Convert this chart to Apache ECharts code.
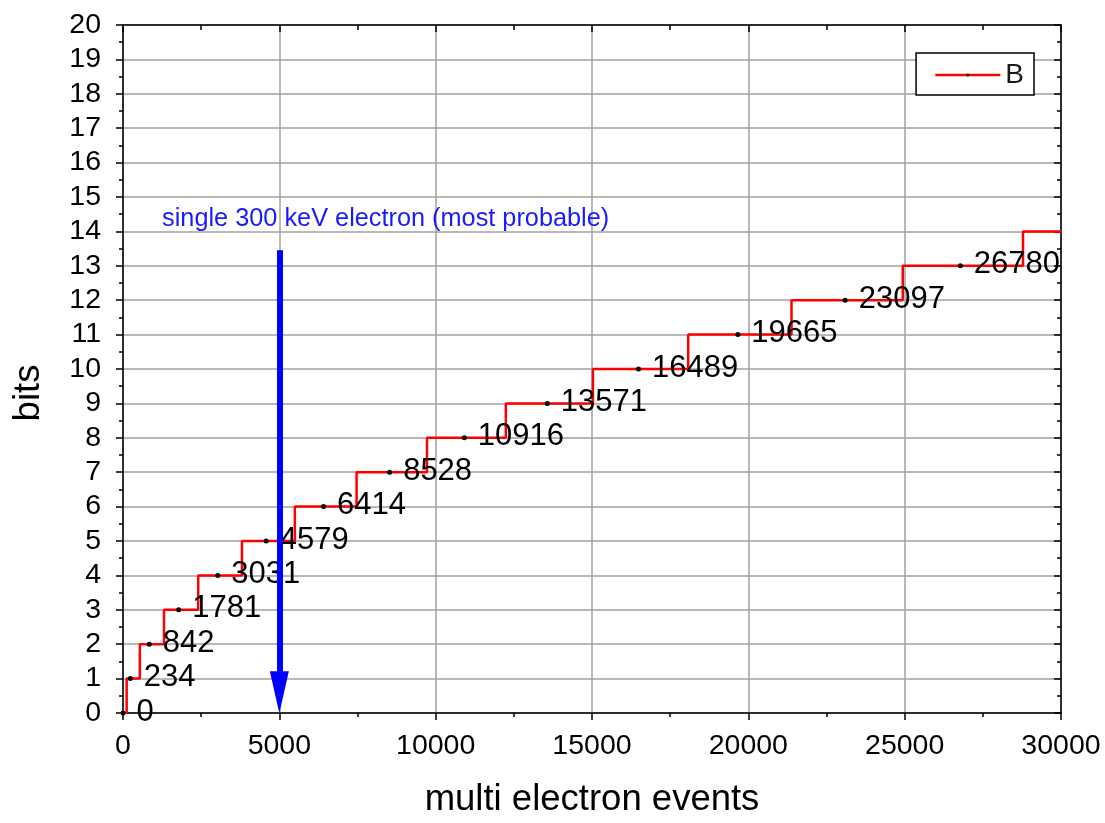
<!DOCTYPE html>
<html>
<head>
<meta charset="utf-8">
<title>bits vs multi electron events</title>
<script src="https://cdn.jsdelivr.net/npm/echarts@6/dist/echarts.min.js"></script>
<style>
  html, body { margin: 0; padding: 0; background: #ffffff; }
  #chart { width: 1105px; height: 823px; }
</style>
</head>
<body>
<div id="chart"></div>
<script>
// Event counts at which each bit level is reached (the last one lies past the axis end)
const events = [0, 234, 842, 1781, 3031, 4579, 6414, 8528, 10916, 13571, 16489, 19665, 23097, 26780, 30790];
const bits = [0, 1, 2, 3, 4, 5, 6, 7, 8, 9, 10, 11, 12, 13, 14];

// Single-electron marker
const electronEvents = 5000;
const arrowTop = 13.45;
const arrowTip = 0.6;
const noteText = 'single 300 keV electron (most probable)';
const noteAt = [1250, 14.35];

const FONT = '"Liberation Sans", Arial, sans-serif';

const seriesData = events.map((x, i) => [x, bits[i]]);

const chart = echarts.init(document.getElementById('chart'), null, { renderer: 'canvas' });

const axisCommon = {
  axisLine: { show: true, onZero: false, lineStyle: { color: '#000', width: 1.5 } },
  splitLine: { show: false },
  minorSplitLine: { show: false }
};

chart.setOption({
  backgroundColor: '#ffffff',
  animation: false,
  grid: { left: 123, right: 44, top: 25, bottom: 109, containLabel: false },
  legend: {
    data: ['B'],
    right: 71,
    top: 53,
    orient: 'vertical',
    backgroundColor: '#ffffff',
    borderColor: '#000',
    borderWidth: 1.5,
    borderRadius: 0,
    padding: [8, 10, 6, 18],
    itemWidth: 65,
    itemHeight: 4,
    itemGap: 5,
    lineStyle: { color: '#ff0000', width: 2.5 },
    textStyle: { fontFamily: FONT, fontSize: 28, color: '#1a1a1a' }
  },
  xAxis: [
    Object.assign({}, axisCommon, {
      type: 'value', position: 'bottom',
      min: 0, max: 30000, interval: 5000,
      name: 'multi electron events', nameLocation: 'middle', nameGap: 68,
      nameTextStyle: { fontFamily: FONT, fontSize: 36.5, color: '#000' },
      axisTick: { show: true, inside: false, length: 7, lineStyle: { color: '#000', width: 1.5 } },
      minorTick: { show: true, splitNumber: 2, length: 4, lineStyle: { color: '#000', width: 1.5 } },
      axisLabel: { fontFamily: FONT, fontSize: 28.5, color: '#000', margin: 19, formatter: v => String(v) },
      splitLine: { show: true, lineStyle: { color: '#a0a0a0', width: 1.5 } }
    }),
    Object.assign({}, axisCommon, {
      type: 'value', position: 'top',
      min: 0, max: 30000, interval: 5000,
      axisTick: { show: true, inside: true, length: 7, lineStyle: { color: '#000', width: 1.5 } },
      minorTick: { show: true, splitNumber: 2, length: 5, lineStyle: { color: '#000', width: 1.5 } },
      axisLabel: { show: false }
    })
  ],
  yAxis: [
    Object.assign({}, axisCommon, {
      type: 'value', position: 'left',
      min: 0, max: 20, interval: 1,
      name: 'bits', nameLocation: 'middle', nameGap: 76,
      nameTextStyle: { fontFamily: FONT, fontSize: 36.5, color: '#000', padding: [0, 48, 0, 0] },
      axisTick: { show: true, inside: false, length: 7, lineStyle: { color: '#000', width: 1.5 } },
      minorTick: { show: true, splitNumber: 2, length: 4, lineStyle: { color: '#000', width: 1.5 } },
      axisLabel: { fontFamily: FONT, fontSize: 28.5, color: '#000', margin: 22 },
      splitLine: { show: true, lineStyle: { color: '#a0a0a0', width: 1.5 } }
    }),
    Object.assign({}, axisCommon, {
      type: 'value', position: 'right',
      min: 0, max: 20, interval: 1,
      axisTick: { show: true, inside: true, length: 7, lineStyle: { color: '#000', width: 1.5 } },
      minorTick: { show: true, splitNumber: 2, length: 4, lineStyle: { color: '#000', width: 1.5 } },
      axisLabel: { show: false }
    })
  ],
  series: [
    {
      name: 'B',
      type: 'line',
      step: 'middle',
      clip: true,
      data: seriesData,
      symbol: 'circle',
      symbolSize: 5,
      itemStyle: { color: '#000' },
      lineStyle: { color: '#ff0000', width: 2.5 },
      label: {
        show: true,
        position: 'right',
        distance: 11,
        offset: [0, -1],
        fontFamily: FONT,
        fontSize: 31,
        color: '#000',
        formatter: p => String(p.value[0])
      },
      z: 3
    },
    {
      name: 'marker',
      type: 'line',
      data: [],
      silent: true,
      markLine: {
        silent: true,
        animation: false,
        symbol: ['none', 'triangle'],
        symbolSize: [19, 42],
        lineStyle: { color: '#0000ff', width: 6, type: 'solid' },
        label: { show: false },
        data: [[{ coord: [electronEvents, arrowTop] }, { coord: [electronEvents, arrowTip] }]]
      },
      markPoint: {
        silent: true,
        symbol: 'circle',
        symbolSize: 0,
        label: {
          show: true,
          position: 'right',
          distance: 0,
          fontFamily: FONT,
          fontSize: 25.3,
          color: '#1a1aff',
          formatter: noteText
        },
        data: [{ coord: noteAt }]
      },
      z: 4
    }
  ],
  graphic: [
    {
      type: 'rect',
      z: 100,
      silent: true,
      shape: { x: 1062, y: 0, width: 43, height: 713 },
      style: { fill: '#ffffff' }
    }
  ]
});
</script>
</body>
</html>
